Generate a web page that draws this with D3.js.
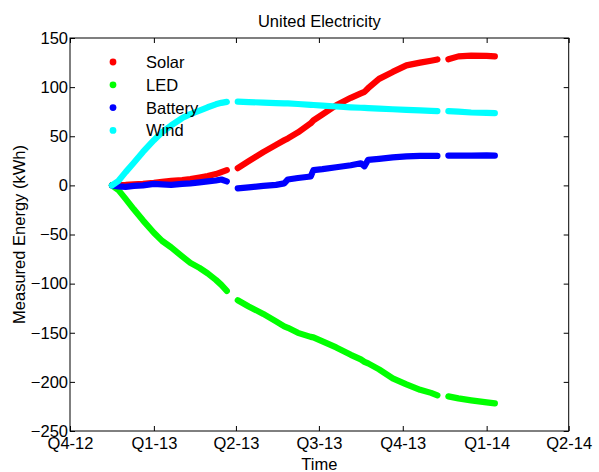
<!DOCTYPE html>
<html>
<head>
<meta charset="utf-8">
<script src="https://cdn.jsdelivr.net/npm/d3@7"></script>
<style>
  html, body { margin: 0; padding: 0; background: #fff; }
  svg { display: block; font-family: "Liberation Sans", Arial, sans-serif; }
</style>
</head>
<body>
<svg id="chart" width="599" height="472"></svg>
<script>
// Sample dates; null entries in the series mark logging gaps.
const dates = [
  "2012-11-16", "2012-11-23", "2012-12-01", "2012-12-10", "2012-12-20",
  "2013-01-01", "2013-01-10", "2013-01-20", "2013-02-01", "2013-02-10",
  "2013-02-20", "2013-03-01", "2013-03-10", "2013-03-16", "2013-03-22",
  "2013-03-28",
  "2013-04-03", "2013-04-15", "2013-05-01", "2013-05-15", "2013-05-24",
  "2013-05-28", "2013-06-08", "2013-06-22", "2013-06-25", "2013-07-05",
  "2013-07-20", "2013-08-05", "2013-08-16", "2013-08-20", "2013-08-24",
  "2013-09-05", "2013-09-20", "2013-10-05", "2013-10-20", "2013-11-01",
  "2013-11-08",
  "2013-11-14",
  "2013-11-20", "2013-12-01", "2013-12-15", "2014-01-01", "2014-01-10"
];

const solar = [
  0, 0.3, 0.5, 1, 1.5, 2.5, 3.5, 4.5, 5.5, 6.5, 8, 9.5, 11.5, 13.5, 15.5,
  null,
  17.5, 24.6, 33.8, 41.2, 45.9, 47.8, 53.9, 63.2, 66.2, 72.3, 81.6, 89.1,
  93.6, 95.2, 98.9, 108.4, 115.5, 122.1, 124.9, 126.9, 128.2,
  null,
  128.4, 131.3, 132, 131.8, 131.3
];

const led = [
  0, -4.6, -13.7, -24.4, -35.6, -48.3, -56.5, -63.1, -72.3, -78.9, -84,
  -89.6, -96.2, -101.3, -107.4,
  null,
  -117, -123.2, -130.8, -138.4, -143.5, -145, -150.1, -154.2, -154.7,
  -158.8, -164.9, -172.5, -177.1, -179.6, -181.2, -187.3, -196.4, -202.5,
  -208.1, -211.2, -213.7,
  null,
  -214.8, -216.8, -218.8, -220.9, -221.9
];

const battery = [
  0, -1, -1.5, -0.5, 0, 1.5, 1, 0.5, 1.5, 2, 3, 4, 5, 6, 4,
  null,
  -3, -2, -0.5, 0.5, 2, 6, 7.5, 9, 15.5, 16.5, 18.5, 20.5, 22.5, 19.5, 26,
  27, 28.5, 29.5, 30, 30, 30,
  null,
  30.3, 30.3, 30.3, 30.6, 30.3
];

const wind = [
  0, 4.5, 13.5, 23, 34, 46, 54, 61, 68.5, 72.5, 76, 79.5, 82.5, 84, 85,
  null,
  85.3, 84.8, 84.3, 83.8, 83.5, 83.5, 82.8, 82, 81.8, 81.2, 80.3, 79.4, 79,
  78.8, 78.6, 78.2, 77.5, 76.9, 76.3, 75.8, 75.6,
  null,
  75.6, 75, 74.2, 73.7, 73.5
];

const seriesNames = ["Solar", "LED", "Battery", "Wind"];
const seriesColors = ["#ff0000", "#00ff00", "#0000ff", "#00ffff"];

const quarterDates = ["2012-10-01", "2013-01-01", "2013-04-01", "2013-07-01",
                      "2013-10-01", "2014-01-01", "2014-04-01"];
const quarterLabels = ["Q4-12", "Q1-13", "Q2-13", "Q3-13", "Q4-13", "Q1-14", "Q2-14"];
const yTicks = [-250, -200, -150, -100, -50, 0, 50, 100, 150];

const parse = d3.utcParse("%Y-%m-%d");
const svg = d3.select("#chart");

const box = { left: 70, right: 568.7, top: 38, bottom: 431 };
const fontSize = 16.5;
const tickLen = 5;

const x = d3.scaleUtc()
  .domain([parse(quarterDates[0]), parse(quarterDates[quarterDates.length - 1])])
  .range([box.left, box.right]);
const y = d3.scaleLinear().domain([-250, 150]).range([box.bottom, box.top]);

const seriesValues = [solar, led, battery, wind];
const series = seriesNames.map((name, i) => ({
  name,
  color: seriesColors[i],
  points: dates.map((d, j) => ({ t: parse(d), v: seriesValues[i][j] }))
}));

// Dense logged samples read as thick round-capped traces.
const line = d3.line()
  .defined(p => p.v !== null)
  .x(p => x(p.t))
  .y(p => y(p.v));

svg.append("g")
  .selectAll("path")
  .data(series)
  .join("path")
  .attr("d", s => line(s.points))
  .attr("fill", "none")
  .attr("stroke", s => s.color)
  .attr("stroke-width", 6.2)
  .attr("stroke-linecap", "round")
  .attr("stroke-linejoin", "round");

// Axes: ticks point inward, mirrored on top and right edges.
const tickVals = quarterDates.map(parse);
const xBottom = d3.axisBottom(x).tickValues(tickVals)
  .tickFormat((d, i) => quarterLabels[i]).tickSizeInner(-tickLen).tickSizeOuter(0).tickPadding(6);
const xTop = d3.axisTop(x).tickValues(tickVals).tickFormat("").tickSizeInner(-tickLen).tickSizeOuter(0);
const yLeft = d3.axisLeft(y).tickValues(yTicks).tickSizeInner(-tickLen).tickSizeOuter(0).tickPadding(2);
const yRight = d3.axisRight(y).tickValues(yTicks).tickFormat("").tickSizeInner(-tickLen).tickSizeOuter(0);

function styleAxis(g) {
  g.select(".domain").remove();
  g.selectAll("line").attr("stroke", "#000");
  g.selectAll("text").attr("fill", "#000").attr("font-size", fontSize)
    .attr("font-family", "Liberation Sans, Arial, sans-serif");
}

svg.append("g").attr("transform", `translate(0,${box.bottom})`).call(xBottom).call(styleAxis);
svg.append("g").attr("transform", `translate(0,${box.top})`).call(xTop).call(styleAxis);
svg.append("g").attr("transform", `translate(${box.left},0)`).call(yLeft).call(styleAxis);
svg.append("g").attr("transform", `translate(${box.right},0)`).call(yRight).call(styleAxis);

svg.append("rect")
  .attr("x", box.left).attr("y", box.top)
  .attr("width", box.right - box.left).attr("height", box.bottom - box.top)
  .attr("fill", "none").attr("stroke", "#000").attr("stroke-width", 1);

// Titles
svg.append("text")
  .attr("x", (box.left + box.right) / 2).attr("y", 26.5)
  .attr("text-anchor", "middle").attr("font-size", fontSize)
  .text("United Electricity");

svg.append("text")
  .attr("x", (box.left + box.right) / 2).attr("y", 469.5)
  .attr("text-anchor", "middle").attr("font-size", fontSize)
  .text("Time");

svg.append("text")
  .attr("transform", `translate(25,${(box.top + box.bottom) / 2}) rotate(-90)`)
  .attr("text-anchor", "middle").attr("font-size", fontSize)
  .text("Measured Energy (kWh)");

// Legend
const legend = svg.append("g").attr("transform", "translate(113,62)");
const items = legend.selectAll("g").data(series).join("g")
  .attr("transform", (d, i) => `translate(0,${i * 22.8})`);
items.append("circle").attr("r", 3.4).attr("fill", d => d.color);
items.append("text").attr("x", 33).attr("dy", "0.36em")
  .attr("font-size", fontSize).text(d => d.name);
</script>
</body>
</html>
